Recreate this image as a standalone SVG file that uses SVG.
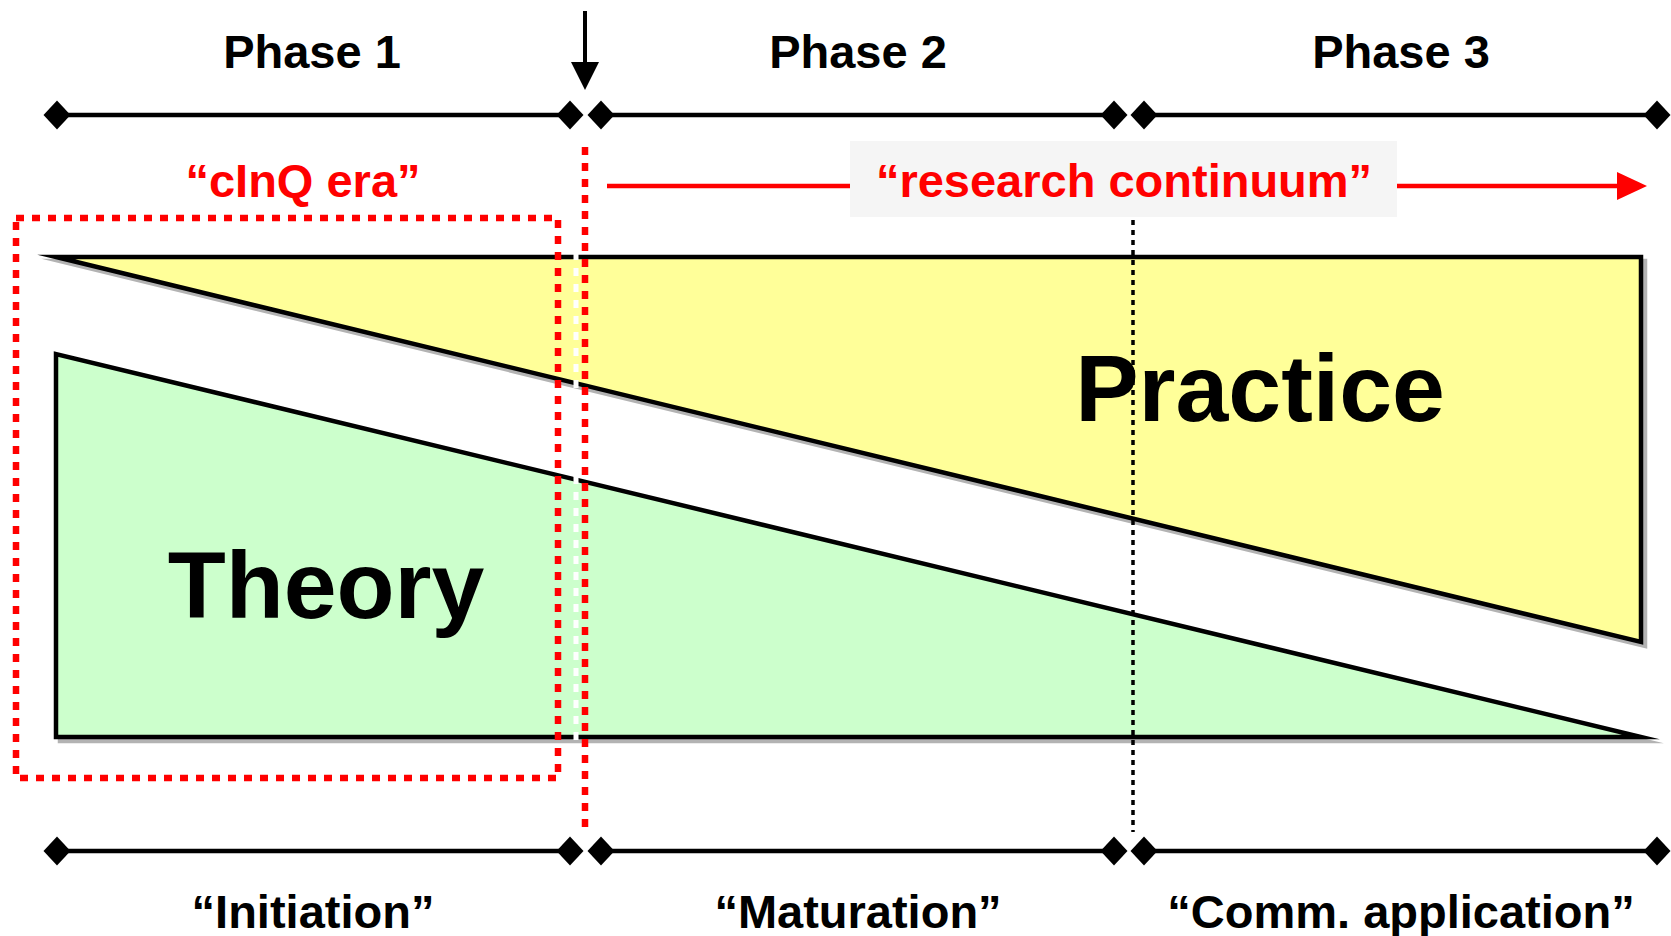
<svg xmlns="http://www.w3.org/2000/svg" width="1671" height="936" viewBox="0 0 1671 936">
<style>
.lbl{font-family:"Liberation Sans",Arial,sans-serif;font-weight:bold;font-size:47px;text-anchor:middle;fill:#000}
.red{fill:#ff0000}
.big{font-family:"Liberation Sans",Arial,sans-serif;font-weight:bold;font-size:95px;text-anchor:middle;fill:#000}
.tl{stroke:#000;stroke-width:4.5;fill:none;marker-start:url(#dia);marker-end:url(#dia)}
.shape{stroke:#000;stroke-width:4.5;stroke-linejoin:miter;stroke-miterlimit:10}
.shadow{fill:#b3b3b3;stroke:#b3b3b3;stroke-width:4.5;stroke-miterlimit:10}
.rdot{stroke:#ff0000;stroke-width:6.5;stroke-dasharray:8 8;fill:none}
</style>
<defs>
<marker id="dia" markerUnits="userSpaceOnUse" markerWidth="30" markerHeight="32" refX="15" refY="16" orient="0" viewBox="0 0 30 32">
<path d="M15 1.5 L28.5 16 L15 30.5 L1.5 16 Z" fill="#000"/>
</marker>
<marker id="redhead" markerUnits="userSpaceOnUse" markerWidth="30" markerHeight="28" refX="2" refY="14" orient="auto" viewBox="0 0 30 28">
<path d="M0 0 L30 14 L0 28 Z" fill="#ff0000"/>
</marker>
</defs>
<rect width="1671" height="936" fill="#fff"/>

<g id="practice">
<polygon class="shadow" points="60,261 1645,261 1645,646"/>
<polygon class="shape" fill="#ffff99" points="56,257 1641,257 1641,642"/>
</g>
<g id="theory">
<polygon class="shadow" points="60,358 60,741 1645,741"/>
<polygon class="shape" fill="#ccffcc" points="56,354 56,737 1641,737"/>
</g>
<text class="big" x="1260" y="421">Practice</text>
<text class="big" x="326" y="618">Theory</text>

<g id="phase-labels">
<text class="lbl" x="312" y="68">Phase 1</text>
<text class="lbl" x="858" y="68">Phase 2</text>
<text class="lbl" x="1401" y="68">Phase 3</text>
</g>

<g id="timeline-top">
<line class="tl" x1="57" y1="115" x2="570" y2="115"/>
<line class="tl" x1="601" y1="115" x2="1114" y2="115"/>
<line class="tl" x1="1144" y1="115" x2="1657" y2="115"/>
</g>
<g id="timeline-bottom">
<line class="tl" x1="57" y1="851" x2="570" y2="851"/>
<line class="tl" x1="601" y1="851" x2="1114" y2="851"/>
<line class="tl" x1="1144" y1="851" x2="1657" y2="851"/>
</g>
<g id="stage-labels">
<text class="lbl" x="313" y="928">“Initiation”</text>
<text class="lbl" x="858" y="928">“Maturation”</text>
<text class="lbl" x="1401" y="928">“Comm. application”</text>
</g>

<g id="clnq-era">
<rect class="rdot" x="16" y="218" width="542" height="560"/>
<text class="lbl red" x="303" y="197">“cInQ era”</text>
</g>

<g id="research-continuum">
<rect x="850" y="141" width="547" height="76" fill="#f5f5f5"/>
<text class="lbl red" x="1124" y="197">“research continuum”</text>
</g>

<g id="connectors">
<line x1="576" y1="252" x2="576" y2="745" stroke="#fff" stroke-width="5" stroke-dasharray="8 8"/>
<line class="rdot" x1="585" y1="147" x2="585" y2="827"/>
<line x1="1133" y1="220" x2="1133" y2="832" stroke="#000" stroke-width="3.5" stroke-dasharray="5 5"/>
<line x1="607" y1="186" x2="850" y2="186" stroke="#ff0000" stroke-width="4.5"/>
<line x1="1397" y1="186" x2="1619" y2="186" stroke="#ff0000" stroke-width="4.5" marker-end="url(#redhead)"/>
<line x1="585" y1="11" x2="585" y2="64" stroke="#000" stroke-width="4"/>
<polygon points="571,62 599,62 585,90" fill="#000"/>
</g>
</svg>
